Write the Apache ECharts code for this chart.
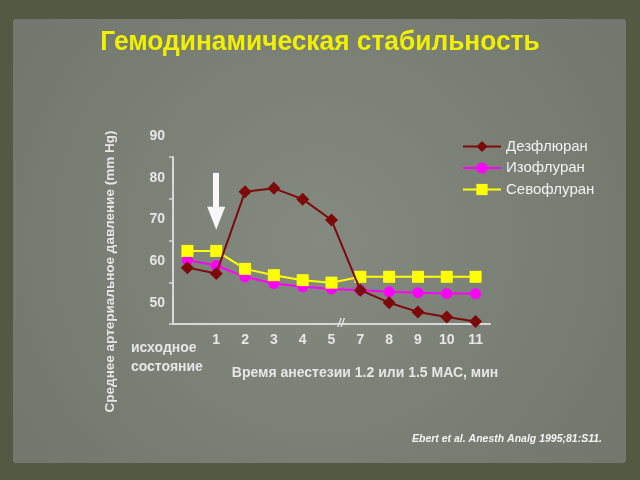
<!DOCTYPE html>
<html><head><meta charset="utf-8">
<script src="https://cdn.jsdelivr.net/npm/echarts@6/dist/echarts.min.js"></script>
<style>html,body{margin:0;padding:0;}#c{width:640px;height:480px;}</style>
</head><body><div id="c"></div>
<script>
const categories = ['исходное состояние','1','2','3','4','5','7','8','9','10','11'];
const desflurane = [58.5, 57.1, 76.7, 77.5, 74.9, 69.9, 53.1, 50.1, 47.9, 46.7, 45.6];
const isoflurane = [60.3, 59.0, 56.3, 54.7, 53.9, 53.4, 53.1, 52.7, 52.5, 52.3, 52.3];
const sevoflurane = [62.5, 62.5, 58.2, 56.7, 55.5, 54.9, 56.3, 56.3, 56.3, 56.3, 56.3];
const yTickValues = [45, 55, 65, 75, 85];
const yLabelValues = [50, 60, 70, 80, 90];
const arrowFrom = 81.2, arrowTo = 70.3;
const titleText = 'Гемодинамическая стабильность';

const FONT = "'Liberation Sans', Arial, sans-serif";
const TXT = '#e6e6e6';
const gridLeft = 173, gridRight = 150, gridBottom = 156, gridTop = 157;
const plotBottom = 480 - gridBottom;
const labelGridTop = plotBottom - (plotBottom - gridTop) * (90 - 45) / (85 - 45);

const chart = echarts.init(document.getElementById('c'), null, {renderer: 'canvas'});
const option = {
  animation: false,
  backgroundColor: '#535943',
  graphic: {elements: [
    {id: 'panel', type: 'rect', z: -1, silent: true,
     shape: {x: 13, y: 19, width: 613, height: 444, r: 3},
     style: {fill: {type: 'radial', x: 0.5, y: 0.5, r: 0.8,
       colorStops: [{offset: 0, color: '#858a81'}, {offset: 1, color: '#73786f'}]}}},
    {id: 'title', type: 'text', z: 10, silent: true, x: 320, y: 42, scaleX: 0.94,
     style: {text: titleText, fill: '#f0f000', fontSize: 28, fontWeight: 'bold', fontFamily: FONT,
       align: 'center', verticalAlign: 'middle'}}
  ]},
  title: [
    {text: 'Ebert et al. Anesth Analg 1995;81:S11.', right: 38, top: 434, padding: 0,
     textStyle: {color: '#f4f4f4', fontSize: 10.5, fontWeight: 'bold', fontStyle: 'italic', fontFamily: FONT}}
  ],
  legend: {
    orient: 'vertical', left: 457, top: 134, itemWidth: 38, itemHeight: 14, itemGap: 6.5,
    data: ['Дезфлюран', 'Изофлуран', 'Севофлуран'],
    textStyle: {color: '#f2f2f2', fontSize: 15, fontFamily: FONT}
  },
  grid: [
    {left: gridLeft, right: gridRight, top: gridTop, bottom: gridBottom},
    {left: gridLeft, right: gridRight, top: labelGridTop, bottom: gridBottom}
  ],
  xAxis: [
    {type: 'category', gridIndex: 0, data: categories, boundaryGap: true,
     axisLine: {lineStyle: {color: '#d8d8d8', width: 2}},
     axisTick: {alignWithLabel: true, length: 4, lineStyle: {color: '#d8d8d8', width: 1.5}},
     axisLabel: {margin: 7.5, color: TXT, fontSize: 14, lineHeight: 17, fontWeight: 'bold', fontFamily: FONT, interval: 0,
       formatter: function (v, i) {
         if (i === 0) { const p = v.split(' '); return '{a|' + p[0] + '}\n{b|' + p[1] + '}'; }
         return v;
       },
       rich: {
         a: {width: 72, align: 'left', lineHeight: 17, padding: [17, 41, 0, 0], color: TXT, fontSize: 14, fontWeight: 'bold', fontFamily: FONT},
         b: {width: 72, align: 'left', lineHeight: 37, padding: [0, 41, 0, 0], color: TXT, fontSize: 14, fontWeight: 'bold', fontFamily: FONT}
       }},
     name: 'Время анестезии 1.2 или 1.5 МАС, мин', nameLocation: 'middle', nameGap: 42, nameMoveOverlap: false,
     nameTextStyle: {color: TXT, fontSize: 14, fontWeight: 'bold', fontFamily: FONT, padding: [0, 0, 0, 67]}},
    {type: 'category', gridIndex: 1, data: categories, show: false}
  ],
  yAxis: [
    {type: 'value', gridIndex: 0, min: 45, max: 85,
     axisLine: {show: true, lineStyle: {color: '#d8d8d8', width: 2}},
     axisTick: {show: true, length: 4, customValues: yTickValues, lineStyle: {color: '#d8d8d8', width: 1.5}},
     axisLabel: {show: false}, splitLine: {show: false},
     name: 'Среднее артериальное давление (mm Hg)', nameLocation: 'middle', nameRotate: 90, nameGap: 56,
     nameTextStyle: {color: TXT, fontSize: 13.5, fontWeight: 'bold', fontFamily: FONT, padding: [0, 62, 0, 0]}},
    {type: 'value', gridIndex: 1, min: 45, max: 90,
     axisLine: {show: false}, axisTick: {show: false}, splitLine: {show: false},
     axisLabel: {customValues: yLabelValues, margin: 8, color: TXT, fontSize: 14, fontWeight: 'bold', fontFamily: FONT}}
  ],
  series: [
    {name: 'Дезфлюран', type: 'line', data: desflurane, z: 5, symbol: 'diamond', symbolSize: 13,
     lineStyle: {color: '#7d0a0a', width: 2}, itemStyle: {color: '#7d0a0a'},
     markLine: {silent: true, symbol: ['none', 'triangle'], symbolSize: [18, 23], label: {show: false},
       lineStyle: {color: '#f8f8f8', width: 6, type: 'solid'},
       emphasis: {disabled: true},
       data: [[{coord: [categories[1], arrowFrom]}, {coord: [categories[1], arrowTo]}]]}},
    {name: 'Изофлуран', type: 'line', data: isoflurane, z: 3, symbol: 'circle', symbolSize: 11,
     lineStyle: {color: '#ff00ff', width: 2}, itemStyle: {color: '#ff00ff'}},
    {name: 'Севофлуран', type: 'line', data: sevoflurane, z: 4, symbol: 'rect', symbolSize: 12,
     lineStyle: {color: '#ffff00', width: 2}, itemStyle: {color: '#ffff00'}}
  ]
};
chart.setOption(option);

const x5 = chart.convertToPixel({xAxisIndex: 0}, categories[5]);
const x7 = chart.convertToPixel({xAxisIndex: 0}, categories[6]);
const yAx = chart.convertToPixel({yAxisIndex: 0}, 45);
chart.setOption({graphic: {elements: [
  {id: 'brk', type: 'text', z: 10, silent: true, x: x5 + (x7 - x5) * 0.32, y: yAx,
   style: {text: '//', fill: '#e0e0e0', fontSize: 12, fontWeight: 'bold', fontStyle: 'italic', fontFamily: FONT,
     align: 'center', verticalAlign: 'middle'}}
]}});
</script></body></html>
